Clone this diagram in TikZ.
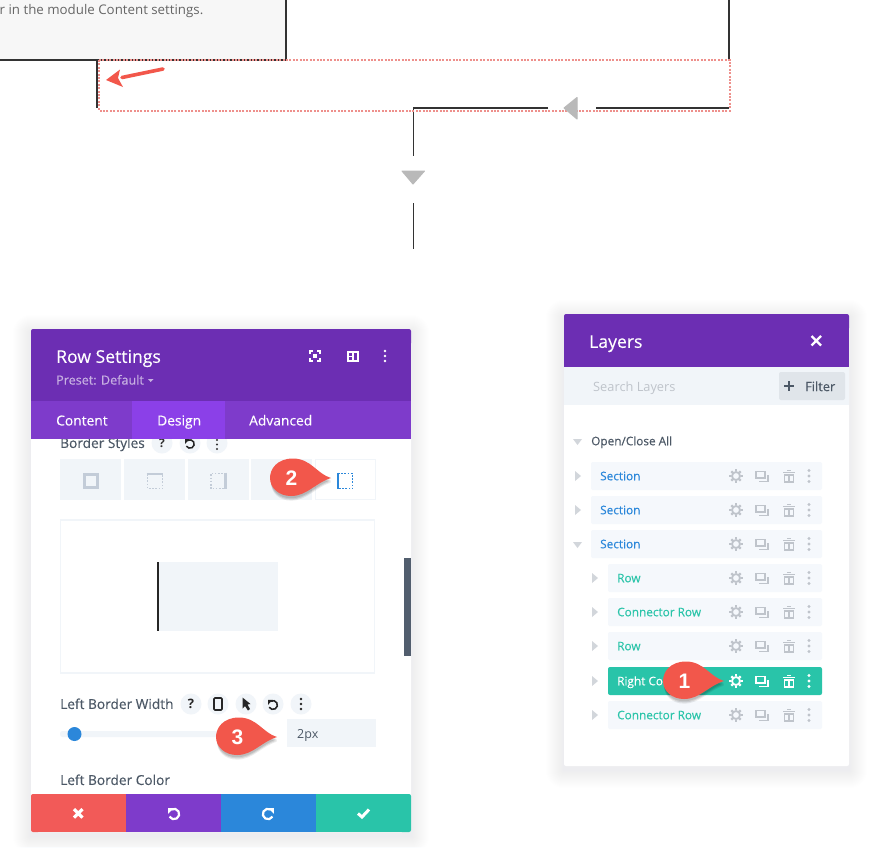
\documentclass[tikz,border=0pt]{standalone}
\usepackage{fontspec}
\setmainfont{Open Sans}
\newfontfamily\semi[FakeBold=0.25]{Open Sans}
\newfontfamily\pinfont{Liberation Sans}
\usetikzlibrary{calc}
\definecolor{purpleA}{HTML}{6C2EB3}
\definecolor{purpleB}{HTML}{7E3BCB}
\definecolor{purpleC}{HTML}{8B40E8}
\definecolor{panelbg}{HTML}{F1F5F9}
\definecolor{rowbg}{HTML}{F5F8FC}
\definecolor{iconG}{HTML}{BFC4CB}
\definecolor{iconT}{HTML}{C3CCD8}
\definecolor{tealA}{HTML}{29C4A9}
\definecolor{blueA}{HTML}{2B87DA}
\definecolor{redA}{HTML}{F25A58}
\definecolor{pinR}{HTML}{F2574B}
\definecolor{txtD}{HTML}{4C5866}
\definecolor{dotR}{HTML}{EE908C}
\definecolor{arrG}{HTML}{B9B9B9}
\definecolor{lineK}{HTML}{333333}
\definecolor{shadeB}{HTML}{A0C0F0}
\definecolor{scrollG}{HTML}{525E6E}
\definecolor{filterG}{HTML}{E0E5EA}
\tikzset{
 x=1pt,y=-1pt,
 lbl/.style={inner sep=0,anchor=base west,yshift={-0.36*#1 pt},font=\fontsize{#1}{#1}\selectfont},
 slbl/.style={inner sep=0,anchor=base west,yshift={-0.36*#1 pt},font=\fontsize{#1}{#1}\selectfont\semi},
 conn/.style={draw=lineK,line width=1.6pt},
 dotbox/.style={draw=dotR,line width=2pt,dash pattern=on 2pt off 1.4pt},
 gtri/.style={fill=arrG,draw=arrG,line width=1pt,line join=round},
 layerrow/.style={fill=rowbg,rounded corners=2pt},
 tri/.style={fill=iconG!70,draw=none},
}
\newcommand{\softshadow}[4]{%
 \foreach \r in {1,2,...,18}{\fill[shadeB,opacity=.009,rounded corners=\r pt] (#1-\r,#2-\r+4) rectangle (#3+\r,#4+\r+4);}}
\newcommand{\pinmark}[3]{%
 \begin{scope}[shift={(#1,#2)}]
  \foreach \o/\p in {2.2/.10,3.4/.10,4.6/.08}{
  \fill[black,opacity=\p,yshift=-\o pt] (0,0) .. controls (-14,-4) and (-20,-18.5) .. (-38,-18.5) .. controls (-54,-18.5) and (-60,-9) .. (-60,0) .. controls (-60,10) and (-52,18) .. (-40,18) .. controls (-24,18) and (-16,5) .. (0,0) -- cycle;}
  \fill[pinR] (0,0) .. controls (-14,-4) and (-20,-19.5) .. (-38,-19.5) .. controls (-54,-19.5) and (-61,-9) .. (-61,0) .. controls (-61,10) and (-52,18) .. (-40,18) .. controls (-24,18) and (-16,5) .. (0,0) -- cycle;
  \node[inner sep=0,text=white,font=\fontsize{21}{21}\selectfont\pinfont\bfseries] at (-39.5,0) {#3};
 \end{scope}}
\newcommand{\gearicon}[3]{%
 \begin{scope}[shift={(#1,#2)}]
  \foreach \a in {0,45,...,315}{\draw[#3,line width=2.2pt] (\a:4.6) -- (\a:6.6);}
  \draw[#3,line width=1.8pt] (0,0) circle (4);
 \end{scope}}
\newcommand{\dupicon}[3]{%
 \begin{scope}[shift={(#1,#2)},#3,line width=1.5pt]
  \draw (-6,-4.5) rectangle (3,2);
  \draw (-3,5.5) -- (6,5.5) -- (6,-1.5);
 \end{scope}}
\newcommand{\trashicon}[3]{%
 \begin{scope}[shift={(#1,#2)},#3,line width=1.5pt]
  \draw (-4.6,-1.2) rectangle (4.6,6);
  \draw (-5.6,-3.4) -- (5.6,-3.4);
  \draw (-2,-5.4) -- (2,-5.4);
  \draw (0,-1) -- (0,5.5);
 \end{scope}}
\newcommand{\dotsicon}[3]{%
 \foreach \d in {-5.5,0,5.5}{\fill[#3] (#1,#2+\d) circle (1.6);}}
\newcommand{\rowicons}[2]{%
 \gearicon{736}{#1}{#2}\dupicon{762}{#1}{#2}\trashicon{789}{#1}{#2}\dotsicon{809}{#1}{#2}}
\newcommand{\qbubble}[2]{\fill[panelbg] (#1,#2) circle (10.5);}
\newcommand{\undoicon}[5]{%
 \begin{scope}[shift={(#1,#2)}]
  \draw[#4,line width=#5pt] (150:#3) arc (150:-120:#3);
  \fill[#4] (-#3-.6,-#3-.8) -- (-#3-.6,-#3+#3*.95) -- (-#3+#3*.95,-#3-.8) -- cycle;
 \end{scope}}
\newcommand{\redoicon}[5]{%
 \begin{scope}[shift={(#1,#2)}]
  \draw[#4,line width=#5pt] (30:#3) arc (30:300:#3);
  \fill[#4] (#3+.6,-#3-.8) -- (#3+.6,-#3+#3*.95) -- (#3-#3*.95,-#3-.8) -- cycle;
 \end{scope}}
\begin{document}
\begin{tikzpicture}
\useasboundingbox (0,0) rectangle (880,847);
\fill[white] (0,0) rectangle (880,847);
% top module box
\fill[black!3] (-2,-2) rectangle (286,60);
\node[lbl=13.3,text=black!60] (modtxt) at (-0.5,10) {r in the module Content settings.};
\coordinate (cA) at (286,-2);
\coordinate (cB) at (286,60);
\coordinate (cC) at (-2,60);
\draw[conn] (cA) -- (cB) -- (cC);
% connectors
\coordinate (l1a) at (97,60);
\coordinate (l1b) at (97,108);
\draw[conn] (l1a) -- (l1b);
\coordinate (r1a) at (729,-2);
\coordinate (r1b) at (729,60);
\draw[conn] (r1a) -- (r1b);
\coordinate (h1a) at (729,108);
\coordinate (h1b) at (596,108);
\draw[conn] (h1a) -- (h1b);
\coordinate (h2a) at (548,108);
\coordinate (h2b) at (413.5,108);
\coordinate (h2c) at (413.5,156);
\draw[conn] (h2a) -- (h2b) -- (h2c);
\coordinate (v3a) at (413.5,203);
\coordinate (v3b) at (413.5,249);
\draw[conn,line width=1.4pt] (v3a) -- (v3b);
% dotted row
\coordinate (dTL) at (99,60);
\coordinate (dTR) at (729.5,60);
\coordinate (dBR) at (729.5,110.5);
\coordinate (dBL) at (99,110.5);
\draw[dotbox] (dTL) -- (dTR) -- (dBR) -- (dBL) -- cycle;
\draw[gtri] (577,97.5) -- (577,119) -- (564,108) -- cycle;
\draw[gtri] (402,171) -- (424.5,171) -- (413,184) -- cycle;
% red arrow
\coordinate (raS) at (163,69);
\coordinate (raE) at (106,80);
\draw[pinR,line width=3.6pt,line cap=round] (raS) -- (122,77.5);
\fill[pinR] (raE) -- (120,69.5) -- (118,78) -- (123,87) -- cycle;

% Row settings panel
\softshadow{31}{329}{411}{832}
\fill[white,rounded corners=2pt] (31,329) rectangle (411,832);
% border styles (below the tabs)
\qbubble{162}{443}\qbubble{190}{443}\qbubble{217}{443}
\node[slbl=13.7,text=txtD] (t6) at (60,443) {Border Styles};
\node[inner sep=0,font=\bfseries\fontsize{12}{12}\selectfont,text=black!80] (q1) at (162,443.5) {?};
\undoicon{190}{444}{4.2}{black!85}{1.5}
\foreach \d in {440,444.5,449}{\fill[black!80] (217,\d) circle (1.2);}
\fill[purpleA,rounded corners=2pt] (31,329) rectangle (411,345);
\fill[purpleA] (31,340) rectangle (411,401);
\fill[purpleB] (31,401) rectangle (411,439);
\fill[purpleC] (132,401) rectangle (225,439);
\node[slbl=17.6,text=white] (t1) at (56,356.5) {Row Settings};
\node[slbl=12.6,text=white!62!purpleA] (t2) at (56,380) {Preset: Default};
\fill[white!62!purpleA] (148,379) -- (153.5,379) -- (150.7,382) -- cycle;
% header icons
\begin{scope}[white,line width=1.3pt]
 \draw (310,354) -- (310,351) -- (313,351) (317,351) -- (320,351) -- (320,354) (320,358) -- (320,361) -- (317,361) (313,361) -- (310,361) -- (310,358);
 \fill (313,354) rectangle (317,358);
 \draw (348,352) rectangle (358,361);
 \draw (353,352) -- (353,361);
 \draw (348,356.5) -- (353,356.5);
\end{scope}
\foreach \d in {351,356,361}{\fill[white] (385,\d) circle (1.4);}
\node[slbl=13.8,text=white] (t3) at (56,420.5) {Content};
\node[slbl=13.8,text=white] (t4) at (157,420.5) {Design};
\node[slbl=13.8,text=white] (t5) at (249,420.5) {Advanced};
% tab buttons
\fill[panelbg] (60,458.5) rectangle (120.5,499.5);
\fill[panelbg] (123.5,458.5) rectangle (185,499.5);
\fill[panelbg] (187.5,458.5) rectangle (248.5,499.5);
\fill[panelbg] (250.5,458.5) rectangle (312,499.5);
\draw[panelbg,line width=1pt] (315,459) rectangle (375,499.5);
\draw[iconT,line width=3pt] (84.2,474) rectangle (97.8,487.6);
\draw[iconT,line width=1.6pt,dash pattern=on 1.6pt off 1.6pt] (147.5,474) -- (147.5,488.6) -- (162.5,488.6) -- (162.5,474);
\draw[iconT,line width=2.6pt] (146.7,474) -- (163.3,474);
\draw[iconT,line width=1.6pt,dash pattern=on 1.6pt off 1.6pt] (226,473.5) -- (210.8,473.5) -- (210.8,488.6) -- (226,488.6);
\draw[iconT,line width=2.6pt] (225.5,472.7) -- (225.5,489.3);
\draw[blueA,line width=1.7pt,dash pattern=on 1.7pt off 1.5pt] (338,473.5) -- (352.6,473.5) -- (352.6,488.6) -- (338,488.6);
\draw[blueA,line width=2.6pt] (338,472.7) -- (338,489.3);
% preview box
\draw[panelbg,line width=1.2pt,fill=white] (60.5,520) rectangle (374.5,673);
\fill[panelbg] (158,562) rectangle (278,631);
\draw[black!85,line width=1.9pt] (158,562) -- (158,631);
% scrollbar
\fill[scrollG] (404,558) rectangle (411,656);
% left border width
\foreach \xx in {191,218,246,273,301}{\qbubble{\xx}{704}}
\node[slbl=13.7,text=txtD] (t7) at (60,704) {Left Border Width};
\node[inner sep=0,font=\bfseries\fontsize{13}{13}\selectfont,text=black!85] (q2) at (191,704) {?};
\draw[black!85,line width=1.6pt,rounded corners=1pt] (214,698) rectangle (222,710);
\fill[black!85] (242.5,697.5) -- (242.5,708.5) -- (245,706) -- (248,710.5) -- (250,709) -- (247.5,704.5) -- (250.5,704) -- cycle;
\undoicon{273}{705}{4.4}{black!85}{1.6}
\foreach \d in {699,704,709}{\fill[black!85] (301,\d) circle (1.3);}
% slider
\fill[panelbg,rounded corners=2.5pt] (60,731) rectangle (225,737);
\fill[blueA] (74.5,734) circle (7);
\fill[panelbg] (287,719) rectangle (375.5,747);
\node[lbl=12.5,text=txtD] (t8) at (297,733.5) {2px};
\node[slbl=13.7,text=txtD] (t9) at (60,780) {Left Border Color};
% footer
\fill[redA,rounded corners=2pt] (31,794) rectangle (40,832);
\fill[redA] (35,794) rectangle (126,832);
\fill[purpleB] (126,794) rectangle (221,832);
\fill[blueA] (221,794) rectangle (316,832);
\fill[tealA,rounded corners=2pt] (400,794) rectangle (411,832);
\fill[tealA] (316,794) rectangle (406,832);
\draw[white,line width=3.2pt] (74,809) -- (82.5,817.5) (82.5,809) -- (74,817.5);
\undoicon{174}{814}{5.2}{white}{2.2}
\redoicon{268}{814}{5.2}{white}{2.2}
\draw[white,line width=3pt] (358,813.5) -- (362,817) -- (369,809.5);
\pinmark{331}{478}{2}
\pinmark{277}{737}{3}

% Layers panel
\softshadow{564}{314}{849}{766}
\fill[white,rounded corners=2pt] (564,314) rectangle (849,766);
\fill[purpleA,rounded corners=2pt] (564,314) rectangle (849,330);
\fill[purpleA] (564,325) rectangle (849,367);
\fill[panelbg] (564,367) rectangle (849,405);
\node[slbl=17.6,text=white] (l1) at (589,341.5) {Layers};
\draw[white,line width=2.4pt] (811.5,336) -- (821,345.5) (821,336) -- (811.5,345.5);
\node[lbl=12.8,text=iconG] (l2) at (593,386.5) {Search Layers};
\fill[filterG,rounded corners=2pt] (779,372) rectangle (845,400);
\draw[txtD,line width=1.4pt] (789,381) -- (789,391) (784,386) -- (794,386);
\node[slbl=12.8,text=txtD] (l3) at (805,386.5) {Filter};
\node[slbl=11.8,text=txtD] (l4) at (591,441) {Open/Close All};
\fill[tri] (573,439) -- (582,439) -- (577.5,445) -- cycle;
% rows
\foreach \yy/\lab in {476/Section,510/Section,544/Section}{
 \fill[layerrow] (591,\yy-14) rectangle (822,\yy+14);
 \node[slbl=11.8,text=blueA] at (600,\yy) {\lab};
 \rowicons{\yy}{iconG}
}
\fill[tri] (575,471) -- (581,476) -- (575,481) -- cycle;
\fill[tri] (575,505) -- (581,510) -- (575,515) -- cycle;
\fill[tri] (573,542) -- (582,542) -- (577.5,548) -- cycle;
\foreach \yy/\lab in {578/Row,612/Connector Row,646/Row,715/Connector Row}{
 \fill[layerrow] (608,\yy-14) rectangle (822,\yy+14);
 \node[slbl=11.8,text=tealA] at (617,\yy) {\lab};
 \rowicons{\yy}{iconG}
 \fill[tri] (592,\yy-5) -- (598,\yy) -- (592,\yy+5) -- cycle;
}
\fill[tealA,rounded corners=2pt] (608,667) rectangle (822,695);
\fill[tri] (592,676) -- (598,681) -- (592,686) -- cycle;
\node[slbl=11.8,text=white] (l5) at (617,681) {Right Con};
\rowicons{681}{white}
\pinmark{724}{681}{1}
\end{tikzpicture}
\end{document}
